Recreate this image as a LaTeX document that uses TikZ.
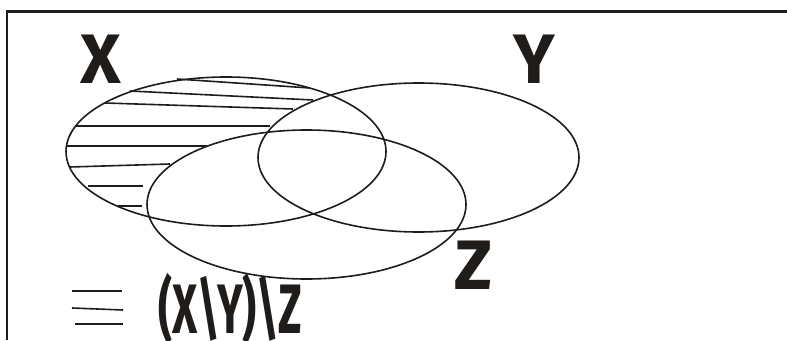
\documentclass[tikz,border=0pt]{standalone}
\usepackage{fontspec}
\setmainfont{Fira Sans}
\definecolor{SetClr}{rgb}{0.12,0.11,0.10}
\tikzset{
  setline/.style={line width=1.6pt,color=SetClr},
  setlbl/.style={font=\fontsize{70}{70}\selectfont\bfseries,text=SetClr,inner sep=0pt,anchor=base}
}

\begin{document}
\begin{tikzpicture}[x=1pt,y=-1pt]
\useasboundingbox (0,0) rectangle (787,340);
\clip (0,0) rectangle (787,340);

% frame
\draw[line width=2.4pt,color=SetClr] (7,340) -- (7,11.5) -- (787,11.5);

\coordinate (X) at (226,151.5);
\coordinate (Y) at (418.5,157.5);
\coordinate (Z) at (306.5,204.5);

% hatching of X\(Y u Z)
\foreach \a/\b/\c/\d in {177/79/310/88, 130/91/313/100, 105/103/293/109,
  75/126/270/126, 67/146/207/146, 70/167/170/164, 88/186/143/186, 118/206/142/206}
  \draw[setline] (\a,\b) -- (\c,\d);

\draw[setline] (X) ellipse [x radius=160pt,y radius=74.5pt];
\draw[setline] (Y) ellipse [x radius=160.5pt,y radius=74.5pt];
\draw[setline] (Z) ellipse [x radius=159.5pt,y radius=74.5pt];

\node[setlbl] (lx) at (101,83) {X};
\node[setlbl] (ly) at (534.5,83) {Y};
\node[setlbl] (lz) at (473.5,289) {Z};

% equivalence sign
\draw[setline] (72,291) -- (122,291);
\draw[setline] (72,308) -- (123,310);
\draw[setline] (75,324) -- (123,324);

\node[setlbl] (res) at (230.5,333) {\scalebox{0.62}[1]{(X\textbackslash Y)\textbackslash Z}};
\end{tikzpicture}
\end{document}
